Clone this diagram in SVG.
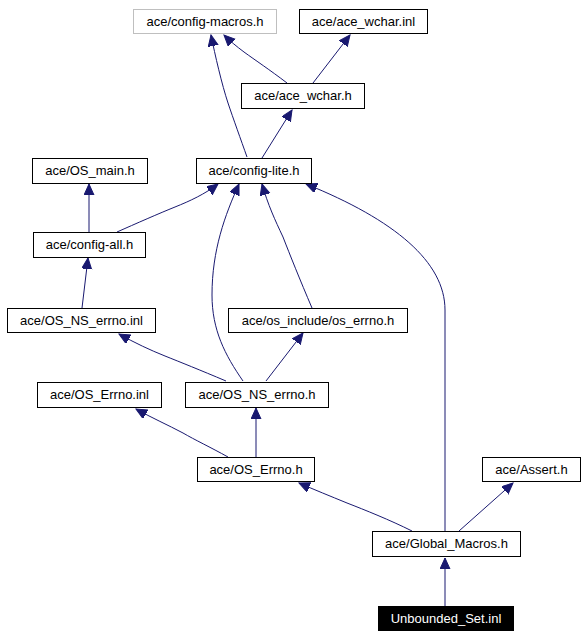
<svg xmlns="http://www.w3.org/2000/svg" width="584" height="637" viewBox="0 0 584 637">
<style>
.n rect{fill:#fff;stroke:#000;stroke-width:1}
.n text{font-family:"Liberation Sans",Arial,sans-serif;font-size:13px;fill:#000;text-anchor:middle}
#e path{fill:none;stroke:#191970;stroke-width:1;marker-end:url(#ah)}
</style>
<defs>
<marker id="ah" markerUnits="userSpaceOnUse" markerWidth="12" markerHeight="11" refX="11" refY="5" orient="auto">
<path d="M0,0 L11,5 L0,10 z" fill="#191970" stroke="#191970" stroke-width="1"/>
</marker>
</defs>
<rect width="584" height="637" fill="#fff"/>
<g id="e">
<path d="M247,157 C241,140 233,118 228,103 C222,85 215,55 211,35"/>
<path d="M287,83 C270,70 255,60 244,52 C236,46 230,41 224,35"/>
<path d="M313,83 L350,35"/>
<path d="M262,158 L292,110"/>
<path d="M117,232 C135,224 160,213 175,207 C190,201 205,194 218,184"/>
<path d="M89,232 L89,184"/>
<path d="M82,308 L88,258"/>
<path d="M226,381 C200,370 180,362 165,356 C150,350 135,343 119,334"/>
<path d="M243,381 C225,355 212,330 212,295 C212,250 225,215 239,184"/>
<path d="M266,381 L303,333"/>
<path d="M312,308 C300,280 290,255 283,237 C275,220 268,205 262,184"/>
<path d="M445,531 L445,310 C445,262 395,220 306,184"/>
<path d="M412,531 C390,520 365,510 347,503 C330,496 315,490 299,483"/>
<path d="M459,531 L513,483"/>
<path d="M228,457 C210,447 195,440 183,433 C168,425 152,418 136,409"/>
<path d="M256,457 L256,408"/>
<path d="M445,606 L445,558"/>
</g>
<g id="n1" class="n"><rect x="133.5" y="9.5" width="143" height="24" style="stroke:#bfbfbf"/><text x="205" y="26">ace/config-macros.h</text></g>
<g id="n2" class="n"><rect x="299.5" y="9.5" width="128" height="24"/><text x="363.5" y="26">ace/ace_wchar.inl</text></g>
<g id="n3" class="n"><rect x="241.5" y="83.5" width="123" height="25"/><text x="303" y="100">ace/ace_wchar.h</text></g>
<g id="n4" class="n"><rect x="196.5" y="158.5" width="115" height="25"/><text x="254" y="175">ace/config-lite.h</text></g>
<g id="n5" class="n"><rect x="32.5" y="158.5" width="115" height="25"/><text x="90" y="175">ace/OS_main.h</text></g>
<g id="n6" class="n"><rect x="33.5" y="232.5" width="112" height="25"/><text x="89.5" y="249">ace/config-all.h</text></g>
<g id="n7" class="n"><rect x="7.5" y="308.5" width="148" height="24"/><text x="81.5" y="325">ace/OS_NS_errno.inl</text></g>
<g id="n8" class="n"><rect x="228.5" y="308.5" width="179" height="24"/><text x="318" y="325">ace/os_include/os_errno.h</text></g>
<g id="n9" class="n"><rect x="37.5" y="382.5" width="124" height="25"/><text x="99.5" y="399">ace/OS_Errno.inl</text></g>
<g id="n10" class="n"><rect x="185.5" y="382.5" width="143" height="25"/><text x="257" y="399">ace/OS_NS_errno.h</text></g>
<g id="n11" class="n"><rect x="197.5" y="457.5" width="117" height="24"/><text x="256" y="474">ace/OS_Errno.h</text></g>
<g id="n12" class="n"><rect x="482.5" y="457.5" width="98" height="24"/><text x="531.5" y="474">ace/Assert.h</text></g>
<g id="n13" class="n"><rect x="372.5" y="531.5" width="148" height="25"/><text x="446.5" y="548">ace/Global_Macros.h</text></g>
<g id="n14" class="n"><rect x="378.5" y="606.5" width="135" height="24" style="fill:#000"/><text x="446" y="623" style="fill:#fff">Unbounded_Set.inl</text></g>
</svg>
